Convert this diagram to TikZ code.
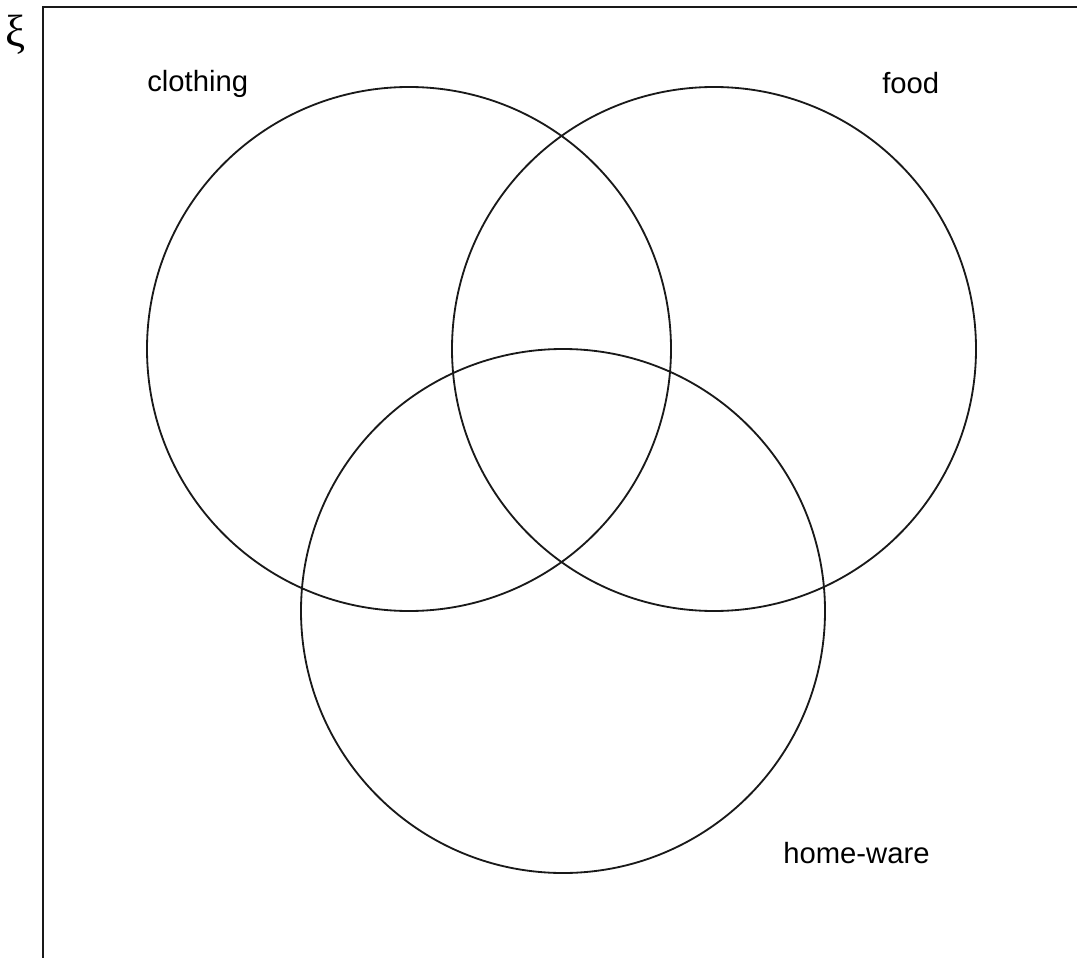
\documentclass[tikz,border=0pt]{standalone}
\usepackage{fontspec}
\setmainfont{Liberation Sans}
\newfontfamily\xifont{Liberation Serif}
\usetikzlibrary{positioning}
\tikzset{
setline/.style={
  line width=1.3pt,
  draw=black!90
  },
setlabel/.style={
  anchor=base west,
  inner sep=0pt,
  font=\fontsize{20.8}{25}\selectfont
  }
}

\begin{document}
\begin{tikzpicture}[x=0.025cm,y=-0.025cm]
\useasboundingbox (0,0) rectangle (1077,958);

% universal set
\coordinate (ubl) at (43,958);
\coordinate (utl) at (43,7);
\coordinate (utr) at (1077,7);
\draw[setline]
  (ubl) -- (utl) -- (utr);
\node[inner sep=0pt,font=\xifont\fontsize{32}{36}\selectfont]
  (xi) at (16,35) {ξ};

% the three sets
\coordinate (clothingc) at (409,349);
\coordinate (foodc) at (714,349);
\coordinate (homec) at (563,611);
\draw[setline]
  (clothingc) circle[radius=262];
\draw[setline]
  (foodc) circle[radius=262];
\draw[setline]
  (homec) circle[radius=262];

\node[setlabel] at (147,92)
  (clothing) {clothing};
\node[setlabel] at (882,94)
  (food) {food};
\node[setlabel] at (783,863)
  (homeware) {home-ware};
\end{tikzpicture}
\end{document}
